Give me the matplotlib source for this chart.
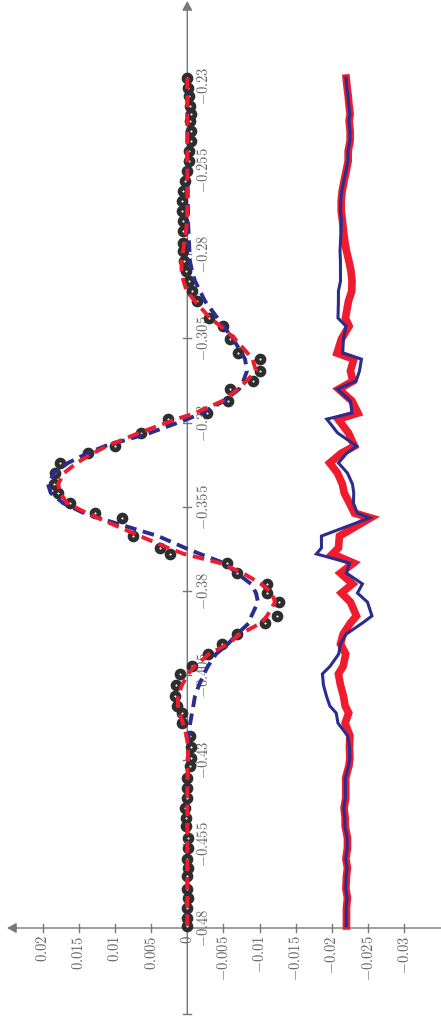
import numpy as np
import matplotlib
matplotlib.use("Agg")
import matplotlib.pyplot as plt

plt.rcParams["mathtext.fontset"] = "cm"

# ---- measured signal (field position, amplitude) ----
x_data = [-0.4794, -0.4770, -0.4741, -0.4711, -0.4684, -0.4646, -0.4622, -0.4595,
          -0.4563, -0.4533, -0.4497, -0.4474, -0.4444, -0.4414, -0.4385, -0.4355,
          -0.4319, -0.4296, -0.4263, -0.4230, -0.4192, -0.4162, -0.4141, -0.4112,
          -0.4079, -0.4046, -0.4023, -0.3987, -0.3957, -0.3928, -0.3895, -0.3874,
          -0.3833, -0.3806, -0.3779, -0.3747, -0.3717, -0.3690, -0.3672, -0.3637,
          -0.3583, -0.3569, -0.3539, -0.3509, -0.3483, -0.3450, -0.3420, -0.3391,
          -0.3370, -0.3331, -0.3290, -0.3272, -0.3236, -0.3201, -0.3177, -0.3147,
          -0.3112, -0.3094, -0.3052, -0.3014, -0.2990, -0.2940, -0.2910, -0.2880,
          -0.2850, -0.2821, -0.2791, -0.2767, -0.2732, -0.2702, -0.2672, -0.2643,
          -0.2613, -0.2583, -0.2554, -0.2524, -0.2494, -0.2465, -0.2435, -0.2405,
          -0.2385, -0.2361, -0.2331, -0.2307, -0.2278]

y_data = [0.0, 0.0, 0.0, -0.00014, 0.00008, 0.0, -0.00014, 0.00008,
          -0.00014, -0.00014, 0.00018, 0.00018, 0.00032, 0.00008, 0.00008, 0.00008,
          -0.00037, -0.00058, -0.00051, -0.00037, 0.00077, 0.00077, 0.00147, 0.00170,
          0.00156, 0.00101, -0.00061, -0.00290, -0.00480, -0.00683, -0.01074, -0.01240,
          -0.01268, -0.01102, -0.01102, -0.00687, -0.00549, 0.00239, 0.00377, 0.00751,
          0.00907, 0.01276, 0.01622, 0.01787, 0.01843, 0.01829, 0.01760, 0.01373,
          0.00999, 0.00640, 0.00267, -0.00272, -0.00563, -0.00590, -0.00908, -0.01005,
          -0.01005, -0.00701, -0.00590, -0.00494, -0.00300, -0.00134, -0.00065, -0.00024,
          0.00018, 0.00046, 0.00059, 0.00059, 0.00059, 0.00059, 0.00073, 0.00073,
          0.00059, 0.00032, 0.00004, -0.00024, -0.00024, -0.00051, -0.00051, -0.00037,
          -0.00051, -0.00037, -0.00024, -0.00010, 0.00004]

# ---- model 1 (red) evaluated at the measured positions ----
y_fit_red = [0.0, 0.0, 0.0, 0.0, 0.0, 0.0, 0.0, 0.0,
             0.0, 0.0, 0.0, 0.0, -0.00001, -0.00001, -0.00001, -0.00003,
             -0.00003, -0.00010, -0.00010, 0.00011, 0.00059, 0.00108, 0.00129, 0.00129,
             0.00073, -0.00010, -0.00106, -0.00300, -0.00563, -0.00729, -0.01019, -0.01102,
             -0.01212, -0.01171, -0.01019, -0.00770, -0.00452, 0.00046, 0.00267, 0.00654,
             0.01239, 0.01387, 0.01663, 0.01756, 0.01787, 0.01705, 0.01529, 0.01304,
             0.01110, 0.00668, 0.00151, -0.00113, -0.00487, -0.00697, -0.00818, -0.00950,
             -0.00903, -0.00832, -0.00659, -0.00458, -0.00314, -0.00106, 0.00008, 0.00053,
             0.00080, 0.00080, 0.00059, 0.00039, 0.00018, 0.00004, 0.0, 0.0,
             0.0, 0.0, 0.0, 0.0, 0.0, 0.0, 0.0, 0.0,
             0.0, 0.0, 0.0, 0.0, 0.0]

# ---- model 2 (blue) evaluated at the measured positions ----
y_fit_blue = [-0.00003, -0.00003, -0.00003, -0.00003, -0.00003, -0.00003, -0.00003, -0.00003,
              -0.00003, -0.00004, -0.00004, -0.00004, -0.00006, -0.00006, -0.00007, -0.00007,
              -0.00007, -0.00010, -0.00010, -0.00019, -0.00040, -0.00065, -0.00083, -0.00106,
              -0.00162, -0.00231, -0.00286, -0.00397, -0.00563, -0.00687, -0.00853, -0.00887,
              -0.00977, -0.00950, -0.00881, -0.00687, -0.00507, -0.00176, 0.00032, 0.00405,
              0.01228, 0.01428, 0.01718, 0.01888, 0.01926, 0.01843, 0.01649, 0.01377,
              0.01140, 0.00518, -0.00004, -0.00196, -0.00507, -0.00715, -0.00774, -0.00825,
              -0.00798, -0.00753, -0.00632, -0.00500, -0.00417, -0.00245, -0.00176, -0.00106,
              -0.00065, -0.00037, -0.00030, -0.00024, -0.00017, -0.00010, -0.00010, -0.00007,
              -0.00006, -0.00004, -0.00003, -0.00003, -0.00003, -0.00003, -0.00003, -0.00003,
              -0.00003, -0.00003, -0.00003, -0.00003, -0.00003]

residual_offset = -0.022

x_ticks = [-0.48, -0.455, -0.43, -0.405, -0.38, -0.355, -0.33, -0.305, -0.28, -0.255, -0.23]
y_ticks = [0.02, 0.015, 0.01, 0.005, 0.0, -0.005, -0.01, -0.015, -0.02, -0.025, -0.03]


def fmt(v):
    s = f"{v:g}"
    return "$" + s + "$"


x_data = np.array(x_data)
y_data = np.array(y_data)
y_fit_red = np.array(y_fit_red)
y_fit_blue = np.array(y_fit_blue)
res_red = y_data - y_fit_red + residual_offset
res_blue = y_data - y_fit_blue + residual_offset

# The plot is laid out sideways: amplitude runs right-to-left, field runs upward.
W, H = 441, 1021
fig = plt.figure(figsize=(W / 100, H / 100), dpi=100)
ax = fig.add_axes([0, 0, 1, 1])
ax.axis("off")

px_amp = 1 / 7234.0      # amplitude units per pixel
px_fld = 1 / 3370.0      # field units per pixel
amp0_px = 187.3
fld0_px = 928.0
ax.set_xlim(amp0_px * px_amp, -(W - amp0_px) * px_amp)
ax.set_ylim(-0.48 - (H - fld0_px) * px_fld, -0.48 + fld0_px * px_fld)

axis_c = "#777777"
text_c = "#666666"

# axes lines with arrows
top = -0.48 + (fld0_px - 1) * px_fld
bottom = -0.48 - 86 * px_fld
ax.annotate("", xy=(0, top), xytext=(0, bottom),
            arrowprops=dict(arrowstyle="-|>,head_length=0.55,head_width=0.3",
                            color=axis_c, lw=1.0, mutation_scale=10,
                            shrinkA=0, shrinkB=0), zorder=1)
ax.plot([4 * px_amp, -4 * px_amp], [bottom, bottom], color=axis_c, lw=1.0, zorder=1)
left = (amp0_px - 7) * px_amp
right = -(W - amp0_px) * px_amp
ax.annotate("", xy=(left, -0.48), xytext=(right, -0.48),
            arrowprops=dict(arrowstyle="-|>,head_length=0.55,head_width=0.3",
                            color=axis_c, lw=1.0, mutation_scale=10,
                            shrinkA=0, shrinkB=0), zorder=1)

# ticks and labels along the field axis
for t in x_ticks:
    ax.plot([4 * px_amp, -4 * px_amp], [t, t], color=axis_c, lw=1.0, zorder=1)
    ax.text(-9 * px_amp, t, fmt(t), rotation=90, ha="left", va="center",
            fontsize=10.5, color=text_c, zorder=1)

# ticks and labels along the amplitude axis
for t in y_ticks:
    ax.plot([t, t], [-0.48 - 4 * px_fld, -0.48 + 4 * px_fld], color=axis_c, lw=1.0, zorder=1)
    ax.text(t, -0.48 - 7 * px_fld, fmt(t), rotation=90, ha="center", va="top",
            fontsize=10.5, color=text_c, zorder=1)

# measured points: dark discs with a small light centre
ax.plot(y_data, x_data, linestyle="none", marker="o", ms=7.4,
        mfc="#2e2e2e", mec="#2e2e2e", zorder=3)
ax.plot(y_data, x_data, linestyle="none", marker="o", ms=1.1,
        mfc="white", mec="white", mew=0.3, zorder=3.1)

# model curves
ax.plot(y_fit_blue, x_data, color="#2b2d8e", lw=2.8, dashes=(3.0, 1.7), zorder=4)
ax.plot(y_fit_red, x_data, color="#ee1c2e", lw=2.8, dashes=(3.0, 1.7), zorder=5)

# residuals, shifted
ax.plot(res_red, x_data, color="#ee1c2e", lw=5.5, solid_joinstyle="miter", zorder=4)
ax.plot(res_blue, x_data, color="#2b2d8e", lw=2.2, solid_joinstyle="miter", zorder=5)

fig.savefig("out.png", dpi=100)
